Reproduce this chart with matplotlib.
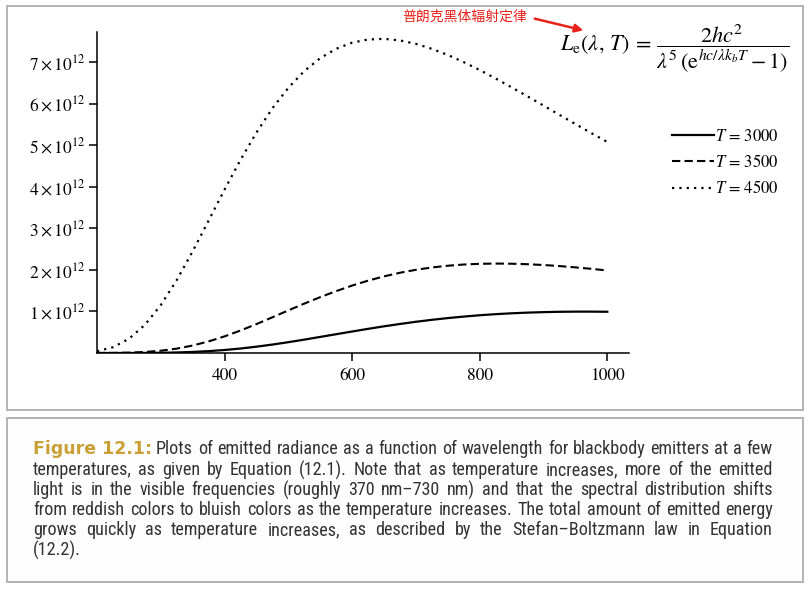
import matplotlib
matplotlib.use('Agg')
from matplotlib import pyplot as plt
from matplotlib.patches import Rectangle
from matplotlib import font_manager
import numpy as np

# wavelength (nm) and radiance (x 1e12)
wavelength = list(range(200, 1001, 25))
rad_3000 = [0.0000, 0.0001, 0.0006, 0.0020, 0.0056, 0.0128, 0.0254, 0.0448, 0.0722,
            0.108, 0.152, 0.203, 0.260, 0.322, 0.387, 0.452, 0.517, 0.581, 0.642,
            0.698, 0.751, 0.798, 0.840, 0.876, 0.908, 0.934, 0.955, 0.971, 0.983,
            0.991, 0.995, 0.995, 0.992]
rad_3500 = [0.0004, 0.0024, 0.0088, 0.0244, 0.0549, 0.1055, 0.180, 0.279, 0.400,
            0.541, 0.696, 0.859, 1.025, 1.188, 1.344, 1.489, 1.622, 1.740, 1.843,
            1.930, 2.001, 2.057, 2.099, 2.128, 2.145, 2.151, 2.147, 2.135, 2.116,
            2.091, 2.059, 2.024, 1.985]
rad_4500 = [0.042, 0.139, 0.340, 0.676, 1.152, 1.754, 2.446, 3.185, 3.931, 4.645,
            5.303, 5.885, 6.378, 6.781, 7.091, 7.317, 7.464, 7.540, 7.556, 7.517,
            7.435, 7.315, 7.167, 6.995, 6.805, 6.601, 6.389, 6.171, 5.950, 5.727,
            5.507, 5.288, 5.075]
labels = ['3000', '3500', '4500']
xticks = [400, 600, 800, 1000]
yticks = [1, 2, 3, 4, 5, 6, 7]

caption_head = 'Figure 12.1:'
caption_lines = [
    'Plots of emitted radiance as a function of wavelength for blackbody emitters at a few',
    'temperatures, as given by Equation (12.1). Note that as temperature increases, more of the emitted',
    'light is in the visible frequencies (roughly 370 nm\u2013730 nm) and that the spectral distribution shifts',
    'from reddish colors to bluish colors as the temperature increases. The total amount of emitted energy',
    'grows quickly as temperature increases, as described by the Stefan\u2013Boltzmann law in Equation',
    '(12.2).',
]

plt.rcParams['mathtext.fontset'] = 'stix'
plt.rcParams['font.family'] = 'STIXGeneral'

W, H = 812, 589
fig = plt.figure(figsize=(W / 100, H / 100), dpi=100)
fig.patch.set_facecolor('white')


def fx(px):
    return px / W


def fy(py):
    return (H - py) / H


# boxes
fig.patches.append(Rectangle((fx(7), fy(410)), fx(803) - fx(7), fy(6) - fy(410),
                             transform=fig.transFigure, fill=False,
                             edgecolor='#b4b4b4', lw=1.4, zorder=0))
fig.patches.append(Rectangle((fx(7), fy(582)), fx(803) - fx(7), fy(418) - fy(582),
                             transform=fig.transFigure, facecolor='#fdfdfd',
                             edgecolor='#b4b4b4', lw=1.4, zorder=0))

ax = fig.add_axes([fx(97), fy(353), fx(629) - fx(97), fy(32) - fy(353)])
ax.patch.set_alpha(0)
x = np.array(wavelength)
l1, = ax.plot(x, np.array(rad_3000) * 1e12, color='black', lw=1.6, ls='-')
l2, = ax.plot(x, np.array(rad_3500) * 1e12, color='black', lw=1.5, ls=(0, (4, 2)))
l3, = ax.plot(x, np.array(rad_4500) * 1e12, color='black', lw=1.6, ls=(0, (1, 2.3)))

ax.set_xlim(200, 1034)
ax.set_ylim(0, 7.72e12)
for s in ['top', 'right']:
    ax.spines[s].set_visible(False)
for s in ['left', 'bottom']:
    ax.spines[s].set_linewidth(1.1)
ax.set_xticks(xticks)
ax.set_xticklabels([str(v) for v in xticks])
ax.set_yticks([v * 1e12 for v in yticks])
ax.set_yticklabels([r'$%d \times 10^{12}$' % v for v in yticks])
ax.tick_params(axis='both', direction='out', length=6, width=1.1, labelsize=12.5)
ax.tick_params(axis='x', pad=5)
ax.tick_params(axis='y', pad=2)

fig.legend([l1, l2, l3], [r'$T$ = %s' % t for t in labels],
           loc='upper left', bbox_to_anchor=(fx(672), fy(129)),
           frameon=False, fontsize=12, handlelength=2.5, handletextpad=0.1,
           labelspacing=0.55, borderpad=0, borderaxespad=0)

# formula and annotation
fig.text(fx(560), fy(49), r'$L_{\mathrm{e}}(\lambda,\, T) \,=\, \dfrac{2hc^2}{\lambda^5\,\left(\mathrm{e}^{hc/\lambda k_b T} - 1\right)}$',
         fontsize=16, ha='left', va='center')
fig.text(fx(465), fy(17), '普朗克黑体辐射定律', color='#e8211c', fontsize=10,
         family=['Noto Sans CJK SC', 'DejaVu Sans'], ha='center', va='center')
ax.annotate('', xy=(586, H - 31), xycoords='figure pixels',
            xytext=(532, H - 18), textcoords='figure pixels',
            arrowprops=dict(arrowstyle='-|>', color='#e8211c', lw=1.8,
                            mutation_scale=12))

# caption, condensed font if there is one
names = {f.name for f in font_manager.fontManager.ttflist}
cap_font = 'Roboto'
for cand in ['Roboto Condensed', 'Liberation Sans Narrow', 'Open Sans Condensed', 'Roboto']:
    if cand in names:
        cap_font = cand
        break

line_y = [449, 470, 490, 510, 530, 550]
left, right = 33, 773
text_col = '#333333'

# first pass: full lines, to find the size that fills the measure
probe = [fig.text(fx(left), fy(yy), s, fontsize=12.5, family=cap_font)
         for yy, s in zip(line_y[1:5], caption_lines[1:5])]
fig.canvas.draw()
nat = max(t.get_window_extent().width for t in probe)
for t in probe:
    t.remove()
cap_size = 12.5 * (right - left) / nat * 0.99

head = fig.text(fx(left), fy(line_y[0]), caption_head, color='#c9a036', fontsize=12.5,
                fontweight='bold', family='DejaVu Sans', va='center', ha='left')

word_rows = []
for i, (yy, line) in enumerate(zip(line_y, caption_lines)):
    if i == len(caption_lines) - 1:
        fig.text(fx(left), fy(yy), line, color=text_col, fontsize=cap_size,
                 family=cap_font, va='center', ha='left')
        continue
    word_rows.append([fig.text(fx(left), fy(yy), w, color=text_col, fontsize=cap_size,
                               family=cap_font, va='center', ha='left')
                      for w in line.split(' ')])

fig.canvas.draw()
head_end = head.get_window_extent().x1 + 4
for i, row in enumerate(word_rows):
    x0 = head_end if i == 0 else left
    ws = [t.get_window_extent().width for t in row]
    gap = (right - x0 - sum(ws)) / (len(row) - 1)
    xx = x0
    for t, wd in zip(row, ws):
        t.set_x(fx(xx))
        xx += wd + gap

fig.savefig('out.png', dpi=100)
